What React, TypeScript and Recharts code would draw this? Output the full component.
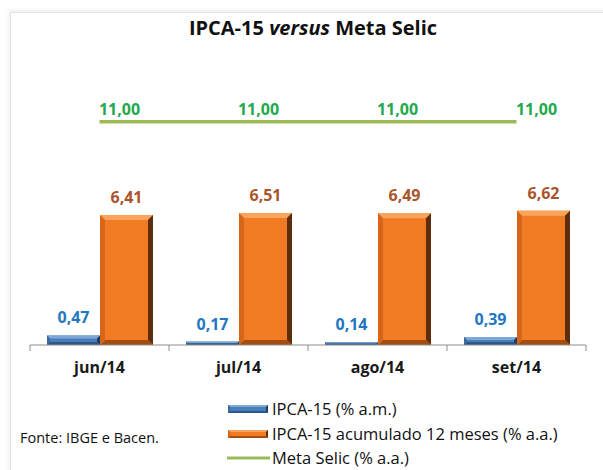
import React from "react"
import {
  ComposedChart,
  Bar,
  Line,
  XAxis,
  YAxis,
  LabelList,
} from "recharts"

const months = ["jun/14", "jul/14", "ago/14", "set/14"]
const ipcaMensal = [0.47, 0.17, 0.14, 0.39]
const ipcaAcum12 = [6.41, 6.51, 6.49, 6.62]
const metaSelic = [11.0, 11.0, 11.0, 11.0]

const data = months.map((m, i) => ({
  month: m,
  mensal: ipcaMensal[i],
  acum: ipcaAcum12[i],
  selic: metaSelic[i],
}))

const FONT = "'Open Sans', Lato, sans-serif"

const fmt = (v: number) => v.toFixed(2).replace(".", ",")

type Pal = { main: string; top: string; right: string; bottom: string; left: string }

const BLUE: Pal = { main: "#4a7ebb", top: "#7ea8d8", right: "#1e3c62", bottom: "#2c5787", left: "#3b6aa2" }
const ORANGE: Pal = { main: "#f07b22", top: "#f8a45e", right: "#5e2d0c", bottom: "#a24e12", left: "#d8661a" }

function bevelRect(x: number, y: number, w: number, h: number, p: Pal, bev = 4) {
  if (w <= 0 || h <= 0) return null
  const b = Math.min(bev, h / 2, w / 2)
  return (
    <g>
      <rect x={x} y={y} width={w} height={h} fill={p.main} />
      <polygon points={`${x},${y} ${x + w},${y} ${x + w - b},${y + b} ${x + b},${y + b}`} fill={p.top} />
      <polygon points={`${x + w},${y} ${x + w},${y + h} ${x + w - b},${y + h - b} ${x + w - b},${y + b}`} fill={p.right} />
      <polygon points={`${x},${y + h} ${x + w},${y + h} ${x + w - b},${y + h - b} ${x + b},${y + h - b}`} fill={p.bottom} />
      <polygon points={`${x},${y} ${x + b},${y + b} ${x + b},${y + h - b} ${x},${y + h}`} fill={p.left} />
    </g>
  )
}

const BlueBar = (props: any) => bevelRect(props.x, props.y, props.width, props.height, BLUE, 3)
const OrangeBar = (props: any) => bevelRect(props.x, props.y, props.width, props.height, ORANGE, 5)

// Excel style ticks: marks at category borders, not centres
function CatTick(props: any) {
  const { x, y, payload, index } = props
  const band = 139
  const left = x - band / 2
  return (
    <g>
      <line x1={left} y1={y - 8} x2={left} y2={y - 2} stroke="#8c8c8c" />
      {index === months.length - 1 && (
        <line x1={left + band} y1={y - 8} x2={left + band} y2={y - 2} stroke="#8c8c8c" />
      )}
      <text x={x} y={y + 20} textAnchor="middle" fontFamily={FONT} fontWeight={700} fontSize={16} fill="#1a1a1a">
        {payload.value}
      </text>
    </g>
  )
}

const legendItems = [
  { label: "IPCA-15 (% a.m.)", swatch: bevelRect(1, 1, 40, 8, BLUE, 2), cy: 409 },
  { label: "IPCA-15 acumulado 12 meses (% a.a.)", swatch: bevelRect(1, 1, 40, 8, ORANGE, 2), cy: 434 },
  { label: "Meta Selic (% a.a.)", swatch: <rect x={0} y={3.5} width={43} height={3} fill="#9bbb59" />, cy: 458 },
]

export default function App() {
  return (
    <div style={{ position: "absolute", left: 0, top: 0, width: 603, height: 470, background: "#fff", overflow: "hidden" }}>
      <div
        style={{
          position: "absolute",
          left: 10,
          top: 12,
          width: 620,
          height: 480,
          borderLeft: "1px solid #e4e4e4",
          borderTop: "1px solid #e4e4e4",
          boxShadow: "-2px -2px 4px rgba(0,0,0,0.06)",
        }}
      />
      <div
        style={{
          position: "absolute",
          left: 180,
          width: 266,
          top: 14,
          textAlign: "center",
          whiteSpace: "nowrap",
          fontFamily: FONT,
          fontWeight: 700,
          fontSize: 20,
          lineHeight: "28px",
          color: "#111",
        }}
      >
        IPCA-15 <i>versus</i> Meta Selic
      </div>
      <div style={{ position: "absolute", left: 20, top: 428, fontFamily: FONT, fontSize: 14.5, color: "#111" }}>
        Fonte: IBGE e Bacen.
      </div>
      {legendItems.map((it) => (
        <div
          key={it.label}
          style={{
            position: "absolute",
            left: 227,
            top: it.cy - 10,
            height: 20,
            lineHeight: "20px",
            display: "flex",
            alignItems: "center",
            whiteSpace: "nowrap",
            fontFamily: FONT,
            fontSize: 16.5,
            color: "#111",
          }}
        >
          <svg width={44} height={10} style={{ marginRight: 1 }}>{it.swatch}</svg>
          <span>{it.label}</span>
        </div>
      ))}
      <div style={{ position: "absolute", left: 0, top: 0 }}>
        <ComposedChart
          width={603}
          height={470}
          data={data}
          margin={{ top: 61, right: 17, bottom: 95, left: 30 }}
          barCategoryGap={17}
          barGap={0}
        >
          <XAxis
            dataKey="month"
            axisLine={{ stroke: "#8c8c8c" }}
            tickLine={false}
            tick={<CatTick />}
            interval={0}
            height={30}
          />
          <YAxis hide domain={[0, 14]} />
          <Bar dataKey="mensal" name="IPCA-15 (% a.m.)" shape={BlueBar} isAnimationActive={false}>
            <LabelList
              dataKey="mensal"
              position="top"
              offset={12}
              formatter={(v: any) => fmt(Number(v))}
              style={{ fill: "#1f78c1", fontFamily: FONT, fontWeight: 700, fontSize: 16 }}
            />
          </Bar>
          <Bar dataKey="acum" name="IPCA-15 acumulado 12 meses (% a.a.)" shape={OrangeBar} isAnimationActive={false}>
            <LabelList
              dataKey="acum"
              position="top"
              offset={12}
              formatter={(v: any) => fmt(Number(v))}
              style={{ fill: "#a9542a", fontFamily: FONT, fontWeight: 700, fontSize: 16 }}
            />
          </Bar>
          <Line
            dataKey="selic"
            name="Meta Selic (% a.a.)"
            stroke="#9bbb59"
            strokeWidth={3.5}
            dot={false}
            isAnimationActive={false}
          >
            <LabelList
              dataKey="selic"
              position="top"
              offset={7}
              dx={20}
              formatter={(v: any) => fmt(Number(v))}
              style={{ fill: "#21a94d", fontFamily: FONT, fontWeight: 700, fontSize: 16 }}
            />
          </Line>
        </ComposedChart>
      </div>
    </div>
  )
}
